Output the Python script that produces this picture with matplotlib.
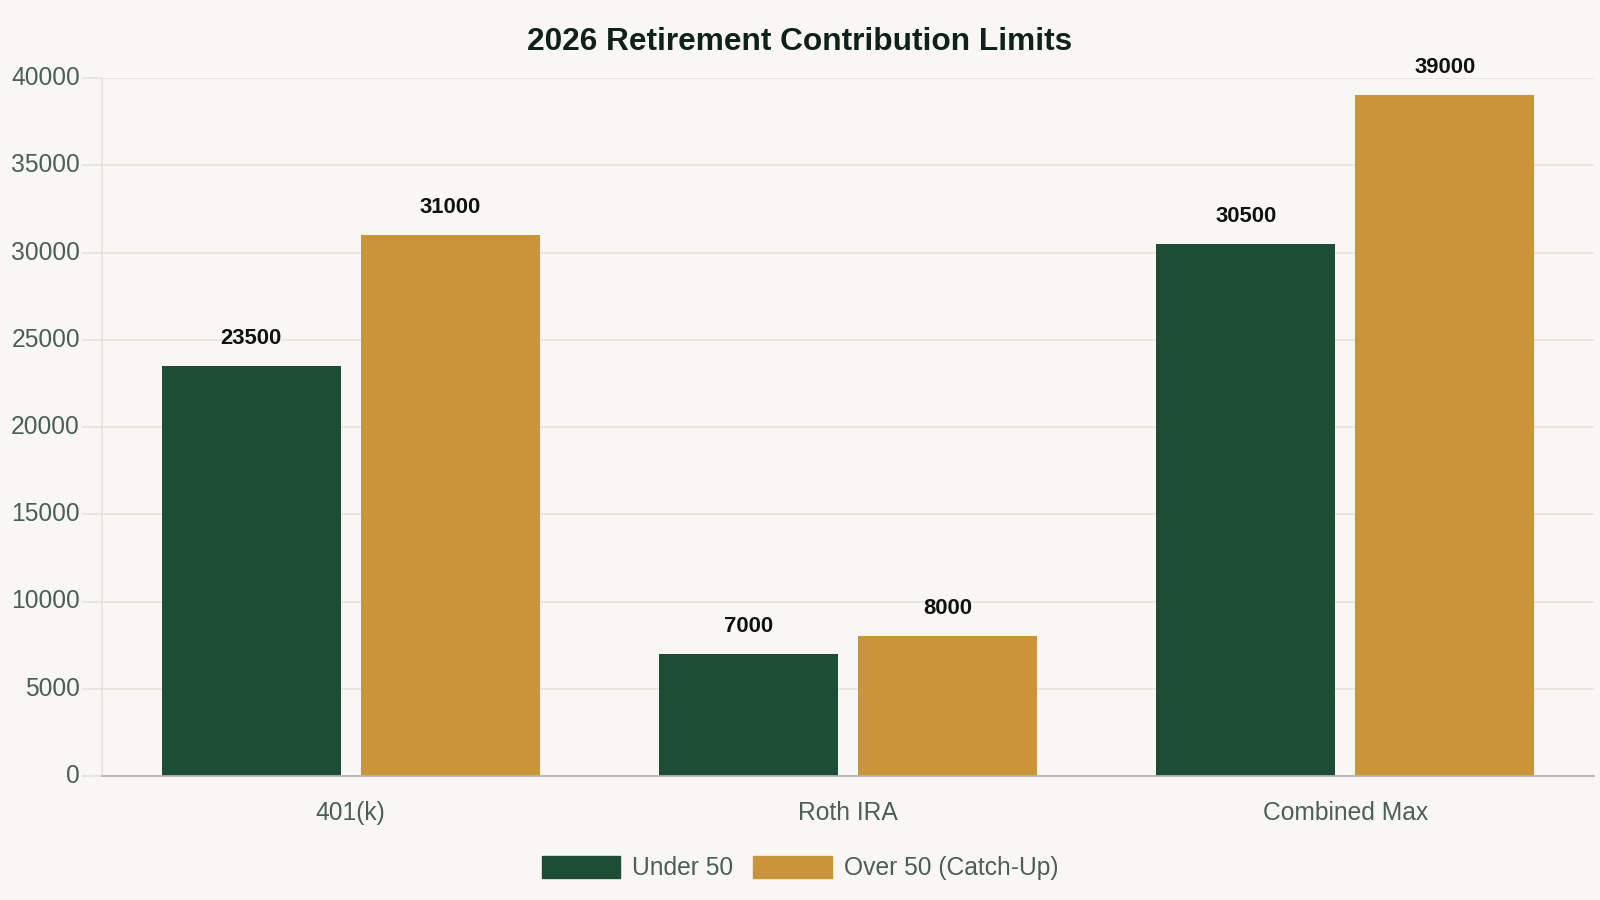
import matplotlib.pyplot as plt
import matplotlib.patches as mpatches
import numpy as np

plt.rcParams['font.family'] = ['Liberation Sans', 'DejaVu Sans']

# data
categories = ['401(k)', 'Roth IRA', 'Combined Max']
under_50 = [23500, 7000, 30500]
over_50 = [31000, 8000, 39000]
series_names = ['Under 50', 'Over 50 (Catch-Up)']

# colours
bg = '#f8f7f3'
green = '#1e4d36'
gold = '#c9943a'
grid_col = '#e4e1db'
tick_col = '#4b5f54'

fig = plt.figure(figsize=(16, 9), dpi=100, facecolor=bg)
ax = fig.add_axes([102 / 1600, 1 - 776 / 900, 1492 / 1600, 698 / 900])
ax.set_facecolor(bg)

x = np.arange(len(categories))
w = 0.36
b1 = ax.bar(x - 0.2, under_50, w, color=green, zorder=3)
b2 = ax.bar(x + 0.2, over_50, w, color=gold, zorder=3)

for bars in (b1, b2):
    for rect in bars:
        h = rect.get_height()
        ax.annotate(f'{int(h)}', (rect.get_x() + rect.get_width() / 2, h),
                    xytext=(0, 19.8), textcoords='offset points',
                    ha='center', va='center', fontsize=15.8,
                    fontweight='bold', color='#111111')

ax.set_xlim(-0.5, 2.5)
ax.set_ylim(0, 40000)
ax.set_yticks(range(0, 40001, 5000))
ax.set_xticks(x)
ax.set_xticklabels(categories)

ax.grid(axis='y', color=grid_col, linewidth=1.1, zorder=0)
ax.tick_params(axis='y', length=14.4, width=1.1, color=grid_col, pad=1.5,
               labelsize=17.7, labelcolor=tick_col)
ax.tick_params(axis='x', length=0, pad=18, labelsize=17.7, labelcolor=tick_col)
for lab in ax.get_yticklabels():
    lab.set_verticalalignment('center')

for s in ('top', 'right'):
    ax.spines[s].set_visible(False)
ax.spines['left'].set_color(grid_col)
ax.spines['left'].set_linewidth(1.1)
ax.spines['bottom'].set_color('#b5b3ae')
ax.spines['bottom'].set_linewidth(1.3)
ax.spines['bottom'].set_zorder(4)

fig.text(0.5, 1 - 42 / 900, '2026 Retirement Contribution Limits',
         ha='center', va='center', fontsize=22.8, fontweight='bold',
         color='#10201a')

handles = [mpatches.Patch(color=green, label=series_names[0]),
           mpatches.Patch(color=gold, label=series_names[1])]
leg = fig.legend(handles=handles, loc='center', bbox_to_anchor=(0.5, 1 - 868 / 900),
                 ncol=2, frameon=False, fontsize=17.7, handlelength=3.2,
                 handleheight=0.98, handletextpad=0.49, columnspacing=0.81)
for t in leg.get_texts():
    t.set_color(tick_col)

plt.savefig('out.png', dpi=100, facecolor=bg)
